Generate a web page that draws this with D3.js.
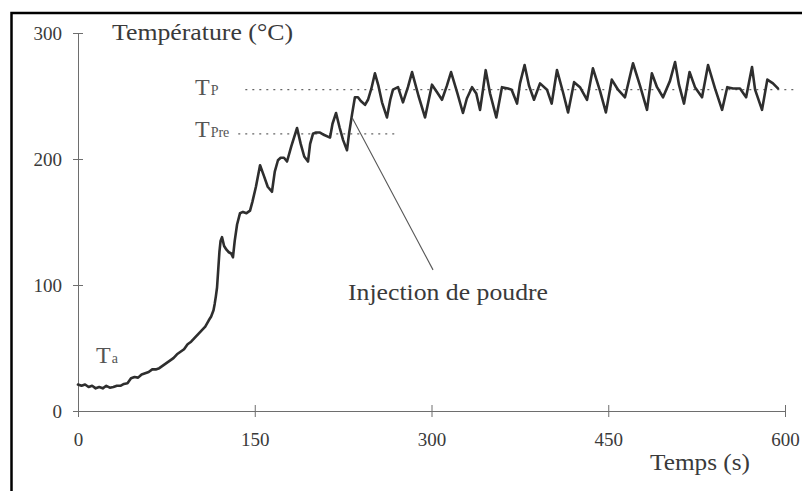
<!DOCTYPE html>
<html><head><meta charset="utf-8">
<script src="https://cdn.jsdelivr.net/npm/d3@7"></script>
<style>
html,body{margin:0;padding:0;background:#fff;}
svg{display:block;}
</style></head>
<body>
<svg id="chart" width="802" height="491"></svg>
<script>
// ---- data ----
const xTicks = [0, 150, 300, 450, 600];
const yTicks = [0, 100, 200, 300];
const timeS = [0,3,6,9,12,15,18,21,24,27,30,33,36,39,42,45,48,51,54,57,60,63,66,69,72,75,78,81,84,87,90,93,96,99,102,105,108,111,113,115,116,117,118,119,120,121,122.2,124,126,128,130,131.5,133,135,137.5,140,143,146,148,151,154.5,158,161,164.6,167,169.7,172,174.8,177.4,181,185.9,189,192,195.2,197,199.4,202,205.4,209,213.9,216,219,222,225,228.3,230,232.5,235,237.6,240,243.6,246.1,249,252,255,258,262.2,265,267.3,271.6,275.8,280,283.5,289,294.5,300.4,304.7,308.9,313,316.6,322,326.7,330,334.4,338,341.2,343.7,346,349.7,355,359.8,364.9,368,372.6,375.1,379,382.8,387,392.1,398,402,406.5,411.6,415.9,421,426,432,437,443,448,453,458.3,464.2,471,477,482.9,487,491.4,496.5,502.4,506.7,510,514.3,519,523.6,529.6,534.7,540.6,546.6,551,555.9,561.8,567,572,574.6,580.5,585,589.8,594,598.3,601];
const tempC = [21,20,21,19,20,18,19,18,20,18.5,19,20,20,21.5,22,26,27,26.5,29,30,31,33,33,34,36,38,40,42,45,47,49,53,55,58,61,64,67,72,75,80,85,91,98,112,126,135,138,131,128,126,125,122,135,148,157,158,157,159,166,178,195,186,178,174,190,199,201,201,198,210,224.6,212,202,198,212,220,221,221,219,217,228,236.5,225,215,207,220,235,249,249,246,243,247,256,268,258,245,233,247,255,257,245,257,269,250,233,259,253,247,258,269,252,236.5,248,257,252,239,255,270.5,252,233,257,256,255,244,260,274.6,258,247,260,255,244,270.6,253,237,261,257,247,272,254,237,263,255,249,276,258,239,268,257,249,262,277,259,244,269,257,249,274.6,256,239,257,256,256,249,273,255,239,263,260,256];
const tpValue = 255;   // T_P level
const tpreValue = 220; // T_Pre level
const tpRange = [142, 609];
const tpreRange = [136, 269];
const arrowFrom = [232.6, 233];
const arrowTo = [301.3, 112];

// ---- layout ----
const FONT = '"Liberation Serif", "Times New Roman", serif';
const svg = d3.select("#chart");
const x = d3.scaleLinear().domain([0, 600]).range([78, 785]);
const y = d3.scaleLinear().domain([0, 300]).range([411, 33]);
const axisColor = "#6e6e6e";
const textColor = "#3a3a3a";

// frame
svg.append("path")
  .attr("d", "M11.5,520 V13 H840")
  .attr("fill", "none").attr("stroke", "#000").attr("stroke-width", 2.5);

// y axis
const gy = svg.append("g").attr("transform", `translate(${x(0)},0)`)
  .call(d3.axisLeft(y).tickValues(yTicks).tickSizeOuter(0).tickSizeInner(5).tickPadding(11));
gy.select(".domain").attr("stroke", axisColor).attr("stroke-width", 1);
gy.selectAll(".tick line").attr("x1", -5).attr("x2", 5).attr("stroke", axisColor);
gy.selectAll(".tick text").style("font-family", FONT).style("font-size", "19px")
  .attr("fill", textColor).attr("dy", "0.34em");

// x axis
const gx = svg.append("g").attr("transform", `translate(0,${y(0)})`)
  .call(d3.axisBottom(x).tickValues(xTicks).tickSizeOuter(0).tickSizeInner(6).tickPadding(16));
gx.select(".domain").attr("stroke", axisColor).attr("stroke-width", 1);
gx.selectAll(".tick line").attr("y1", -6).attr("y2", 6).attr("stroke", axisColor);
gx.selectAll(".tick text").style("font-family", FONT).style("font-size", "19px")
  .attr("fill", textColor);

// dotted reference lines
svg.append("line").attr("x1", x(tpRange[0])).attr("x2", x(tpRange[1]))
  .attr("y1", y(tpValue)).attr("y2", y(tpValue))
  .attr("stroke", "#666").attr("stroke-width", 1.2).attr("stroke-dasharray", "2,5");
svg.append("line").attr("x1", x(tpreRange[0])).attr("x2", x(tpreRange[1]))
  .attr("y1", y(tpreValue)).attr("y2", y(tpreValue))
  .attr("stroke", "#666").attr("stroke-width", 1.2).attr("stroke-dasharray", "2,5");

// curve
const pts = timeS.map((t, i) => [t, tempC[i]]);
svg.append("path").datum(pts)
  .attr("d", d3.line().x(d => x(d[0])).y(d => y(d[1])))
  .attr("fill", "none").attr("stroke", "#2e2e2e").attr("stroke-width", 2.6)
  .attr("stroke-linejoin", "round").attr("stroke-linecap", "round");

// annotation line
svg.append("line")
  .attr("x1", x(arrowFrom[0])).attr("y1", y(arrowFrom[1]))
  .attr("x2", x(arrowTo[0])).attr("y2", y(arrowTo[1]))
  .attr("stroke", "#555").attr("stroke-width", 1.1);

// texts
function label(xp, yp, size, w, str) {
  svg.append("text").attr("x", xp).attr("y", yp)
    .style("font-family", FONT).style("font-size", size + "px")
    .attr("fill", textColor).attr("textLength", w).attr("lengthAdjust", "spacingAndGlyphs")
    .text(str);
}
label(112, 40, 23, 181, "Température (°C)");
label(650, 470, 24, 100, "Temps (s)");
label(348, 300, 23, 200, "Injection de poudre");

// T labels
function tLabel(xp, yp, sub) {
  const t = svg.append("text").attr("x", xp).attr("y", yp).attr("fill", "#555")
    .style("font-family", FONT).style("font-size", "24px");
  t.append("tspan").text("T");
  t.append("tspan").style("font-size", "14px").attr("dx", 1).text(sub);
}
tLabel(195, 95, "P");
tLabel(195, 137, "Pre");
tLabel(96, 363, "a");
</script>
</body></html>
